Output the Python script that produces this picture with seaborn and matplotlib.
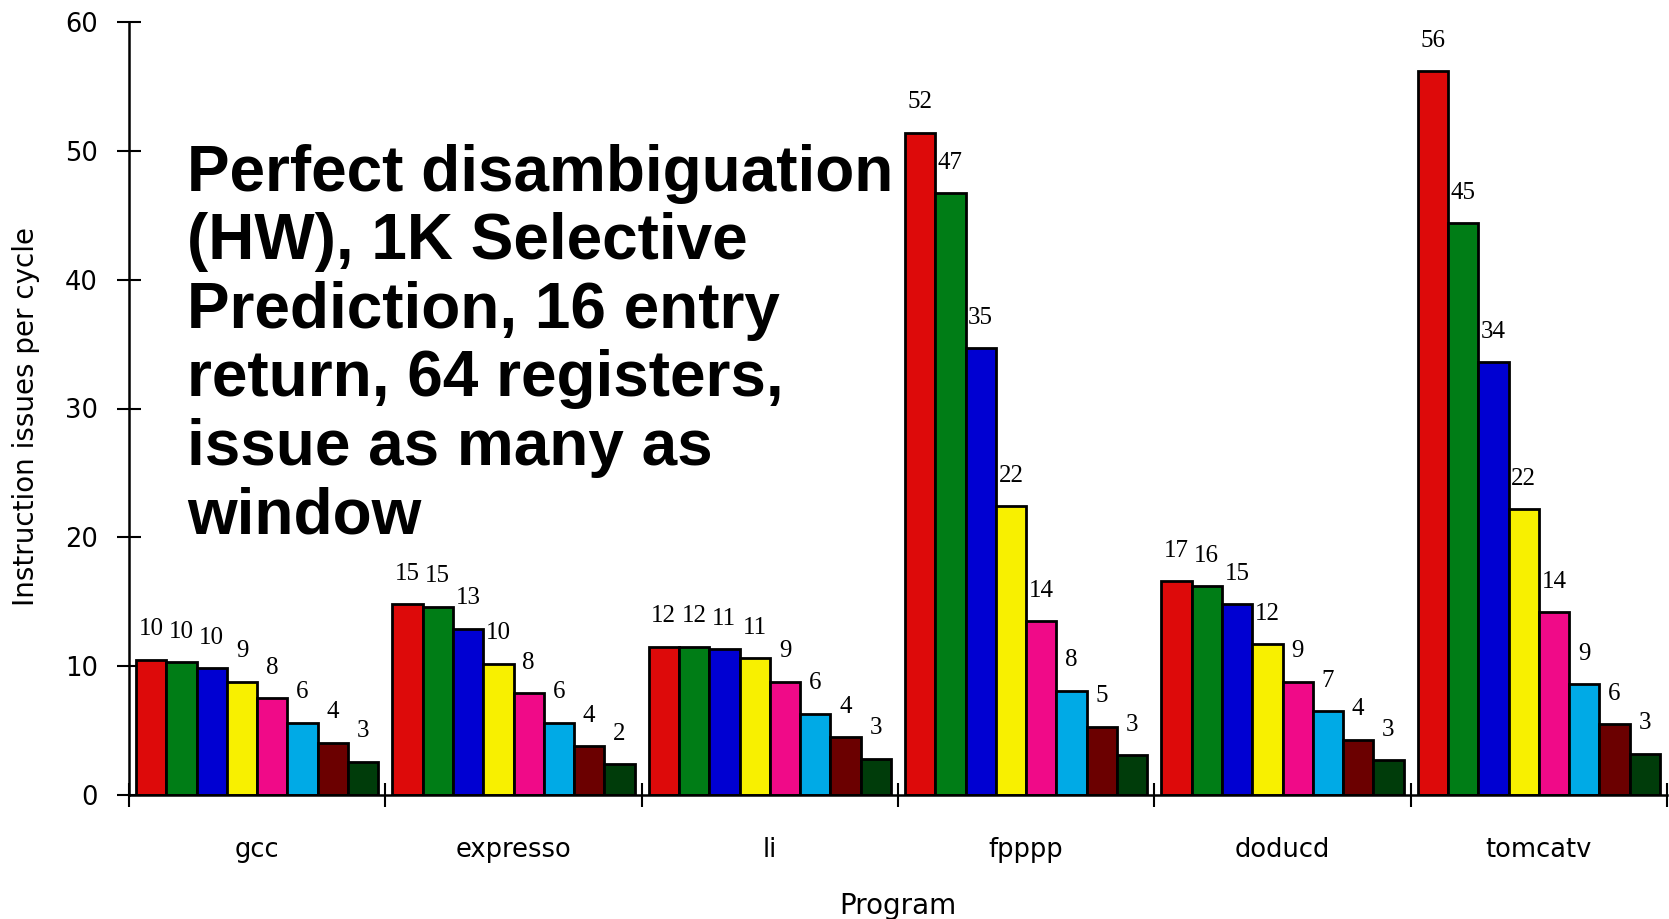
import numpy as np
import pandas as pd
import seaborn as sns
import matplotlib.pyplot as plt

programs = ["gcc", "expresso", "li", "fpppp", "doducd", "tomcatv"]
windows = ["Infinite", "256", "128", "64", "32", "16", "8", "4"]

# bar heights per program, one value per window size
gcc = [10.5, 10.3, 9.85, 8.8, 7.5, 5.6, 4.05, 2.6]
expresso = [14.8, 14.6, 12.9, 10.2, 7.9, 5.6, 3.8, 2.4]
li = [11.5, 11.5, 11.3, 10.6, 8.8, 6.3, 4.5, 2.8]
fpppp = [51.4, 46.7, 34.7, 22.4, 13.5, 8.1, 5.3, 3.1]
doducd = [16.6, 16.2, 14.8, 11.7, 8.8, 6.5, 4.3, 2.7]
tomcatv = [56.2, 44.4, 33.6, 22.2, 14.2, 8.6, 5.5, 3.2]

# printed labels
gcc_lbl = [10, 10, 10, 9, 8, 6, 4, 3]
expresso_lbl = [15, 15, 13, 10, 8, 6, 4, 2]
li_lbl = [12, 12, 11, 11, 9, 6, 4, 3]
fpppp_lbl = [52, 47, 35, 22, 14, 8, 5, 3]
doducd_lbl = [17, 16, 15, 12, 9, 7, 4, 3]
tomcatv_lbl = [56, 45, 34, 22, 14, 9, 6, 3]

colors = ["#dd0a0a", "#007d16", "#0000d2", "#f8f000", "#f00a88",
          "#00aae6", "#6b0000", "#003c0a"]

values = [gcc, expresso, li, fpppp, doducd, tomcatv]
labels = [gcc_lbl, expresso_lbl, li_lbl, fpppp_lbl, doducd_lbl, tomcatv_lbl]

df = pd.DataFrame([
    {"Program": p, "Window": w, "IPC": values[i][j]}
    for i, p in enumerate(programs) for j, w in enumerate(windows)
])

sns.set_style("ticks")
plt.rcParams["font.family"] = ["DejaVu Sans"]
plt.rcParams["text.color"] = "black"
plt.rcParams["axes.labelcolor"] = "black"
plt.rcParams["xtick.color"] = "black"
plt.rcParams["ytick.color"] = "black"

fig = plt.figure(figsize=(16.69, 9.19), dpi=100)
ax = fig.add_axes([129 / 1669, 1 - 795 / 919, (1667 - 129) / 1669, (795 - 22) / 919])

sns.barplot(data=df, x="Program", y="IPC", hue="Window", order=programs,
            hue_order=windows, palette=colors, width=0.945, gap=0,
            edgecolor="black", linewidth=2.0, saturation=1, legend=False, ax=ax)

for j, cont in enumerate(ax.containers):
    ax.bar_label(cont, labels=[str(labels[i][j]) for i in range(len(programs))],
                 padding=14, fontsize=18, family="Liberation Serif")

ax.set_ylim(0, 60)
ax.set_xlim(-0.5, 5.5)
ax.set_yticks(np.arange(0, 61, 10))
ax.set_xticks(np.arange(-0.5, 5.6, 1), minor=True)
ax.tick_params(axis="y", direction="inout", length=17, width=1.5, labelsize=18.5, pad=14)
ax.tick_params(axis="x", which="major", length=0, labelsize=18.5, pad=30)
ax.tick_params(axis="x", which="minor", direction="inout", length=17, width=1.5)
for s in ["top", "right"]:
    ax.spines[s].set_visible(False)
for s in ["left", "bottom"]:
    ax.spines[s].set_linewidth(1.8)
    ax.spines[s].set_color("black")

ax.set_xlabel("Program", fontsize=20)
ax.set_ylabel("Instruction issues per cycle", fontsize=20)
ax.xaxis.set_label_coords(0.5, -0.125)
ax.yaxis.set_label_coords(-0.058, 0.49)

fig.text(187 / 1669, 1 - 144 / 919,
         "Perfect disambiguation\n(HW), 1K Selective\nPrediction, 16 entry\n"
         "return, 64 registers,\nissue as many as\nwindow",
         va="top", ha="left", fontsize=46, weight="bold",
         family="Liberation Sans", linespacing=1.18)

fig.savefig("out.png", dpi=100)
